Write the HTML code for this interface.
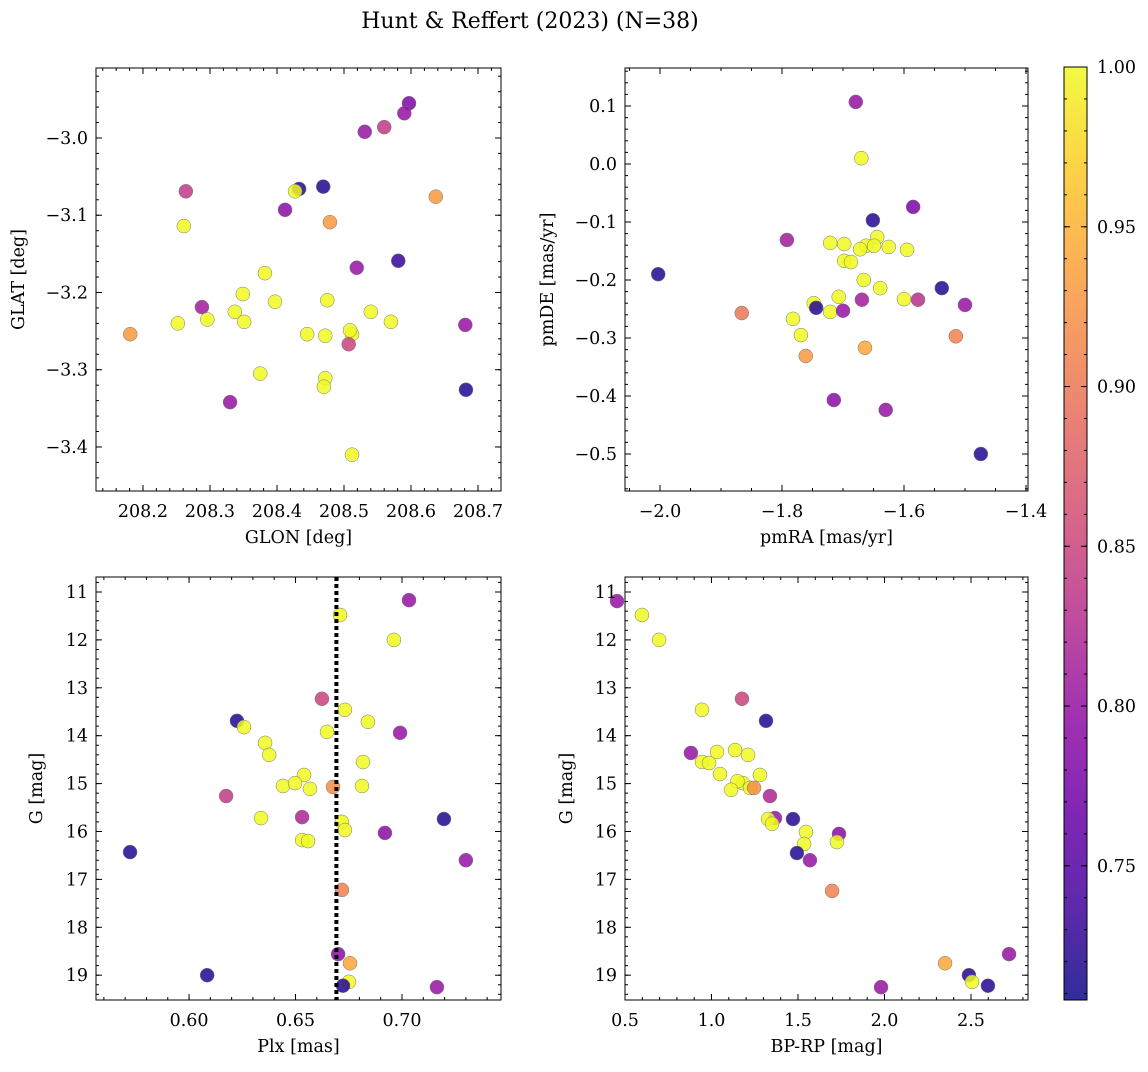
<!DOCTYPE html>
<html><head><meta charset="utf-8"><style>
html,body{margin:0;padding:0;background:#fff}
svg text{font-family:"DejaVu Serif","Liberation Serif",serif;fill:#000}
</style></head><body>
<svg id="fig" width="1148" height="1067" viewBox="0 0 1148 1067" xmlns="http://www.w3.org/2000/svg">
<defs><linearGradient id="cbg" x1="0" y1="1" x2="0" y2="0"></linearGradient></defs>
<text x="530" y="28" font-size="22" text-anchor="middle">Hunt &amp; Reffert (2023) (N=38)</text>
</svg>
<script>
// Panel 1: GLON / GLAT
const p1Glon=[208.597,208.590,208.560,208.531,208.264,208.433,208.427,208.469,208.637,208.412,208.479,208.261,208.581,208.519,208.382,208.349,208.397,208.475,208.288,208.181,208.252,208.296,208.337,208.351,208.445,208.472,208.512,208.509,208.540,208.570,208.507,208.681,208.375,208.472,208.470,208.682,208.330,208.512];
const p1Glat=[-2.955,-2.968,-2.986,-2.992,-3.069,-3.066,-3.069,-3.063,-3.076,-3.093,-3.109,-3.114,-3.159,-3.168,-3.175,-3.202,-3.212,-3.210,-3.219,-3.254,-3.240,-3.235,-3.225,-3.238,-3.254,-3.256,-3.254,-3.249,-3.225,-3.238,-3.267,-3.242,-3.305,-3.311,-3.322,-3.326,-3.342,-3.410];
const p1Prob=[0.78,0.80,0.84,0.80,0.84,0.72,1,0.72,0.93,0.79,0.93,1,0.73,0.80,1,1,1,1,0.81,0.93,1,1,1,1,1,1,1,1,1,1,0.85,0.80,1,1,1,0.72,0.80,1];
// Panel 2: pmRA / pmDE
const p2PmRA=[-1.679,-1.670,-1.585,-1.651,-1.792,-1.721,-1.698,-1.644,-1.662,-1.649,-1.625,-1.595,-1.672,-1.698,-1.687,-1.666,-1.639,-2.003,-1.538,-1.600,-1.707,-1.748,-1.744,-1.669,-1.577,-1.500,-1.866,-1.782,-1.721,-1.700,-1.769,-1.515,-1.664,-1.761,-1.715,-1.630,-1.474];
const p2PmDE=[0.107,0.010,-0.074,-0.097,-0.131,-0.136,-0.138,-0.126,-0.141,-0.141,-0.143,-0.148,-0.147,-0.167,-0.169,-0.200,-0.214,-0.190,-0.214,-0.233,-0.229,-0.240,-0.248,-0.234,-0.234,-0.243,-0.257,-0.267,-0.255,-0.253,-0.295,-0.297,-0.317,-0.331,-0.407,-0.424,-0.500];
const p2Prob=[0.80,1,0.78,0.72,0.81,1,1,1,1,1,1,1,1,1,1,1,1,0.72,0.72,1,1,1,0.72,0.81,0.83,0.80,0.90,1,1,0.80,1,0.91,0.94,0.93,0.79,0.80,0.72];
// Panel 3: Plx / G
const p3Plx=[0.7033,0.6709,0.6962,0.6624,0.6732,0.6225,0.6258,0.6648,0.6840,0.6991,0.6357,0.6376,0.6817,0.6540,0.6441,0.6498,0.6174,0.6568,0.6812,0.6676,0.6531,0.6338,0.6718,0.6732,0.7197,0.6920,0.6531,0.6559,0.5723,0.7300,0.6718,0.6700,0.6756,0.6751,0.6723,0.6085,0.7164];
const p3G=[11.17,11.48,12.0,13.23,13.46,13.69,13.82,13.92,13.71,13.94,14.15,14.40,14.55,14.82,15.05,14.99,15.26,15.11,15.05,15.07,15.70,15.72,15.80,15.97,15.74,16.03,16.18,16.20,16.43,16.60,17.22,18.56,18.75,19.14,19.22,19.00,19.25];
const p3Prob=[0.80,1,1,0.85,1,0.72,1,1,1,0.80,1,1,1,1,1,1,0.84,1,1,0.92,0.82,1,1,1,0.72,0.79,1,1,0.72,0.80,0.91,0.79,0.94,1,0.72,0.72,0.80];
// Panel 4: BP-RP / G
const p4Bprp=[0.454,0.598,0.697,1.176,0.945,1.315,0.881,1.136,1.032,1.211,0.945,0.986,1.049,1.280,1.182,1.150,1.338,1.223,1.113,1.246,1.367,1.327,1.350,1.471,1.546,1.737,1.535,1.725,1.494,1.569,1.697,2.350,2.488,2.720,2.506,2.598,1.980];
const p4G=[11.19,11.48,12.0,13.23,13.46,13.69,14.36,14.30,14.34,14.40,14.55,14.57,14.80,14.82,14.99,14.95,15.26,15.09,15.13,15.09,15.72,15.74,15.84,15.74,16.01,16.05,16.26,16.22,16.45,16.60,17.24,18.75,19.00,18.56,19.14,19.22,19.25];
const p4Prob=[0.80,1,1,0.85,1,0.72,0.80,1,1,1,1,1,1,1,1,1,0.82,1,1,0.92,0.80,1,1,0.72,1,0.79,1,1,0.72,0.80,0.91,0.94,0.72,0.80,1,0.72,0.80];
const plxLine=0.6692;
const cbTicks=[0.75,0.80,0.85,0.90,0.95,1.00];
const pMin=0.708, pMax=1.0;

const NS="http://www.w3.org/2000/svg";
const svg=document.getElementById('fig');
function mk(tag,attrs,parent){const e=document.createElementNS(NS,tag);for(const k in attrs)e.setAttribute(k,attrs[k]);(parent||svg).appendChild(e);return e;}
const stops=[[0,'#0d0887'],[0.1,'#41049d'],[0.2,'#6a00a8'],[0.3,'#8f0da4'],[0.4,'#b12a90'],[0.5,'#cc4778'],[0.6,'#e16462'],[0.7,'#f2844b'],[0.8,'#fca636'],[0.9,'#fcce25'],[1,'#f0f921']];
function hex(h){return [1,3,5].map(i=>parseInt(h.substr(i,2),16));}
function plasma(t){t=Math.max(0,Math.min(1,t));for(let i=1;i<stops.length;i++){if(t<=stops[i][0]){const a=stops[i-1],b=stops[i];const f=(t-a[0])/(b[0]-a[0]);const ca=hex(a[1]),cb=hex(b[1]);return 'rgb('+ca.map((v,j)=>Math.round(v+(cb[j]-v)*f)).join(',')+')';}}return stops[10][1];}
function col(p){return plasma((p-pMin)/(pMax-pMin));}
function fmt(v,d){const s=Math.abs(v).toFixed(d);return (v<-1e-9?'\u2212':'')+s;}

function panel(o){
  const g=mk('g',{});
  
  
  const X=v=>o.x0+(v-o.xmin)/(o.xmax-o.xmin)*(o.x1-o.x0);
  const Y=o.yinv?(v=>o.y0+(v-o.ymin)/(o.ymax-o.ymin)*(o.y1-o.y0)):(v=>o.y1-(v-o.ymin)/(o.ymax-o.ymin)*(o.y1-o.y0));
  const pts=mk('g',{},g);
  
  
  for(let i=0;i<o.xs.length;i++){
    const c=mk('circle',{cx:X(o.xs[i]),cy:Y(o.ys[i]),r:7,fill:col(o.ps[i]),'fill-opacity':0.85,stroke:'#777','stroke-width':0.5},pts);
    
    
  }
  if(o.vline!==undefined){
    const l=mk('line',{x1:X(o.vline),x2:X(o.vline),y1:o.y0,y2:o.y1,stroke:'#000','stroke-width':4,'stroke-dasharray':'4 3'},g);
    
    
  }
  const fr=mk('rect',{x:o.x0,y:o.y0,width:o.x1-o.x0,height:o.y1-o.y0,fill:'none',stroke:'#000','stroke-width':1},g);
  
  
  const xs0=Math.ceil(o.xmin/o.xstep-1e-6);
  for(let k=xs0;k*o.xstep<=o.xmax+1e-9;k++){
    const v=k*o.xstep,px=X(v);
    mk('line',{x1:px,x2:px,y1:o.y1,y2:o.y1-6,stroke:'#000'},g);
    mk('line',{x1:px,x2:px,y1:o.y0,y2:o.y0+6,stroke:'#000'},g);
    const t=mk('text',{x:px,y:o.y1+26,'font-size':17.5,'text-anchor':'middle'},g);
    t.textContent=fmt(v,o.xd);
    
    
  }
  const ms=o.xstep/o.xminor;
  for(let k=Math.ceil(o.xmin/ms);k*ms<=o.xmax;k++){const px=X(k*ms);mk('line',{x1:px,x2:px,y1:o.y1,y2:o.y1-3,stroke:'#000'},g);mk('line',{x1:px,x2:px,y1:o.y0,y2:o.y0+3,stroke:'#000'},g);}
  const lo=Math.min(o.ymin,o.ymax),hi=Math.max(o.ymin,o.ymax);
  for(let k=Math.ceil(lo/o.ystep-1e-6);k*o.ystep<=hi+1e-9;k++){
    const v=k*o.ystep,py=Y(v);
    mk('line',{x1:o.x0,x2:o.x0+6,y1:py,y2:py,stroke:'#000'},g);
    mk('line',{x1:o.x1,x2:o.x1-6,y1:py,y2:py,stroke:'#000'},g);
    const t=mk('text',{x:o.x0-8,y:py+6,'font-size':17.5,'text-anchor':'end'},g);
    t.textContent=fmt(v,o.yd);
    
    
  }
  const ym=o.ystep/o.yminor;
  for(let k=Math.ceil(lo/ym);k*ym<=hi;k++){const py=Y(k*ym);mk('line',{x1:o.x0,x2:o.x0+3,y1:py,y2:py,stroke:'#000'},g);mk('line',{x1:o.x1,x2:o.x1-3,y1:py,y2:py,stroke:'#000'},g);}
  const xl=mk('text',{x:(o.x0+o.x1)/2,y:o.y1+52,'font-size':17.5,'text-anchor':'middle'},g);
  xl.textContent=o.xlabel;
  
  
  const yl=mk('text',{x:0,y:0,'font-size':17.5,'text-anchor':'middle',transform:'translate('+(o.ylx)+','+((o.y0+o.y1)/2)+') rotate(-90)'},g);
  yl.textContent=o.ylabel;
  
  
}
panel({name:'glon-glat-panel',x0:96,x1:501,y0:68,y1:491,xmin:208.1299,xmax:208.7343,ymin:-3.4570,ymax:-2.9094,xstep:0.1,xminor:5,xd:1,ystep:0.1,yminor:5,yd:1,xs:p1Glon,ys:p1Glat,ps:p1Prob,xlabel:'GLON [deg]',ylabel:'GLAT [deg]',ylx:24});
panel({name:'proper-motion-panel',x0:625,x1:1028,y0:68,y1:491,xmin:-2.0574,xmax:-1.3967,ymin:-0.5638,ymax:0.1655,xstep:0.2,xminor:4,xd:1,ystep:0.1,yminor:5,yd:1,xs:p2PmRA,ys:p2PmDE,ps:p2Prob,xlabel:'pmRA [mas/yr]',ylabel:'pmDE [mas/yr]',ylx:553});
panel({name:'parallax-magnitude-panel',x0:96,x1:501,y0:577,y1:1000,xmin:0.5563,xmax:0.7465,ymin:10.687,ymax:19.518,yinv:true,xstep:0.05,xminor:5,xd:2,ystep:1,yminor:5,yd:0,xs:p3Plx,ys:p3G,ps:p3Prob,xlabel:'Plx [mas]',ylabel:'G [mag]',ylx:42,vline:plxLine});
panel({name:'color-magnitude-panel',x0:625,x1:1028,y0:577,y1:1000,xmin:0.5,xmax:2.8295,ymin:10.687,ymax:19.518,yinv:true,xstep:0.5,xminor:5,xd:1,ystep:1,yminor:5,yd:0,xs:p4Bprp,ys:p4G,ps:p4Prob,xlabel:'BP-RP [mag]',ylabel:'G [mag]',ylx:572});

const grad=document.getElementById('cbg');
for(let i=0;i<=20;i++){mk('stop',{offset:(i/20),'stop-color':plasma(i/20)},grad);}
const cb=mk('g',{});


const cx0=1064,cx1=1087,cy0=67,cy1=1000;
mk('rect',{x:cx0,y:cy0,width:cx1-cx0,height:cy1-cy0,fill:'url(#cbg)','fill-opacity':0.85},cb);
mk('rect',{x:cx0,y:cy0,width:cx1-cx0,height:cy1-cy0,fill:'none',stroke:'#000'},cb);
const CY=v=>cy1-(v-pMin)/(pMax-pMin)*(cy1-cy0);
cbTicks.forEach(v=>{const py=CY(v);mk('line',{x1:cx1,x2:cx1-6,y1:py,y2:py,stroke:'#000'},cb);mk('line',{x1:cx0,x2:cx0+6,y1:py,y2:py,stroke:'#000'},cb);
  const t=mk('text',{x:cx1+10,y:py+6,'font-size':17.5},cb);t.textContent=v.toFixed(2);
  
  });
for(let k=Math.ceil(pMin/0.01);k*0.01<=pMax+1e-9;k++){const py=CY(k*0.01);mk('line',{x1:cx1,x2:cx1-3,y1:py,y2:py,stroke:'#000'},cb);mk('line',{x1:cx0,x2:cx0+3,y1:py,y2:py,stroke:'#000'},cb);}
</script>
</body></html>
